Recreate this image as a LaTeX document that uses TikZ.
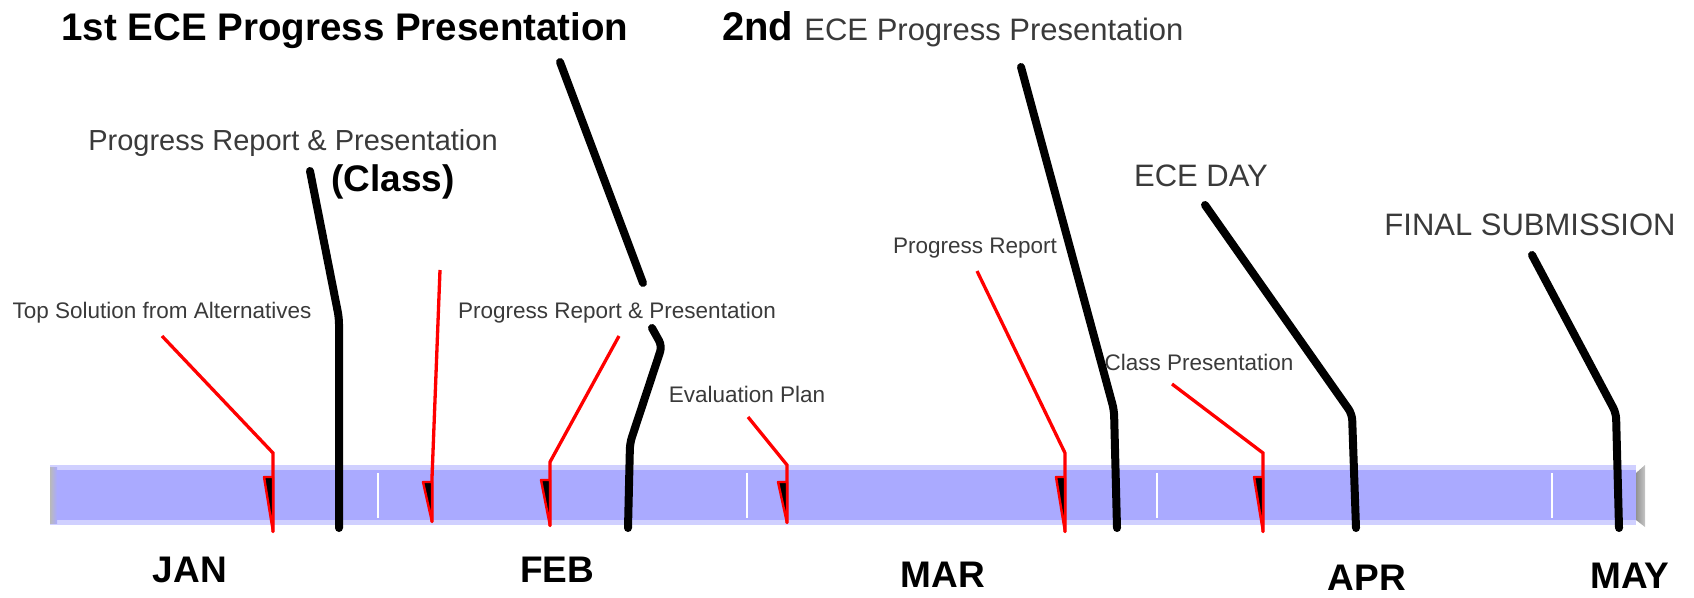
\documentclass[tikz,border=0pt]{standalone}
\usepackage{fontspec}
\setmainfont{Liberation Sans}
\usetikzlibrary{positioning, calc}
\definecolor{BarBlue}{HTML}{AAAAFF}
\definecolor{LabelGray}{HTML}{3A3A3A}
\definecolor{MarkRed}{HTML}{FF0000}
\tikzset{
  milestone/.style={line width=8pt, line cap=round, line join=round, rounded corners=6pt},
  task/.style={draw=MarkRed, line width=3.3pt, line join=miter},
  tasktip/.style={draw=MarkRed, fill=black, line width=2.4pt, line join=round},
  note/.style={inner sep=0pt, text=LabelGray, font=\fontsize{22.5}{26}\selectfont},
  event/.style={inner sep=0pt, text=LabelGray, font=\fontsize{31}{36}\selectfont},
  month/.style={inner sep=0pt, font=\fontsize{37}{42}\selectfont\bfseries},
}

\begin{document}
\begin{tikzpicture}[x=1pt, y=-1pt]
  \useasboundingbox (0,0) rectangle (1694,597);

  % timeline bar
  \fill[BarBlue!55] (50,465) rectangle (1636,525);
  \fill[BarBlue] (50,470) rectangle (1636,520);
  \shade[left color=gray!55, right color=BarBlue] (50,467) rectangle (57,523);
  \shade[left color=gray!85, right color=gray!45] (1636,473) -- (1645,465) -- (1645,527) -- (1636,520) -- cycle;
  \foreach \sx in {378,747,1157,1552}
    \draw[white, line width=1.2pt] (\sx,473) -- (\sx,518);

  % titles and labels
  \node[inner sep=0pt, anchor=base, font=\fontsize{38.5}{44}\selectfont\bfseries] (first) at (345,40) {1st ECE Progress Presentation};
  \node[inner sep=0pt, anchor=base west, font=\fontsize{40}{44}\selectfont\bfseries] (second) at (722,40)
    {2nd \textcolor{LabelGray}{\fontsize{31}{36}\selectfont\mdseries ECE Progress Presentation}};
  \node[inner sep=0pt, text=LabelGray, font=\fontsize{29}{34}\selectfont] (classrep) at (293,143) {Progress Report \& Presentation};
  \node[inner sep=0pt, font=\fontsize{37}{42}\selectfont\bfseries] (classtag) at (393,182) {(Class)};
  \node[note] (topsol) at (162,313) {Top Solution from Alternatives};
  \node[note] (febrep) at (617,313) {Progress Report \& Presentation};
  \node[note] (evalplan) at (747,394) {Evaluation Plan};
  \node[note] (marrep) at (975,248) {Progress Report};
  \node[note] (classpres) at (1199,362) {Class Presentation};
  \node[event] (eceday) at (1201,176) {ECE DAY};
  \node[event] (final) at (1530,225) {FINAL SUBMISSION};

  % months
  \node[month] (jan) at (190,570) {JAN};
  \node[month] (feb) at (557,570) {FEB};
  \node[month] (mar) at (943,575) {MAR};
  \node[month] (apr) at (1367,578) {APR};
  \node[month] (may) at (1630,576) {MAY};

  % free ends of the red pointers
  \coordinate (r-topsol) at (162,336);
  \coordinate (r-class) at (440,270);
  \coordinate (r-febrep) at (619,336);
  \coordinate (r-eval) at (748,417);
  \coordinate (r-marrep) at (977,271);
  \coordinate (r-clspres) at (1172,384);

  \foreach \src/\px/\bend/\hook/\tipy in {r-topsol/273/453/477/532, r-class/432/478/482/522,
      r-febrep/550/462/480/526, r-eval/787/465/482/523, r-marrep/1065/453/477/532, r-clspres/1263/453/477/532}{
    \draw[task] (\src) -- (\px,\bend) -- (\px,\tipy);
    \filldraw[tasktip] (\px,\hook) -- (\px-9,\hook) -- (\px,\tipy) -- cycle;
  }

  % black milestone lines
  \draw[milestone] (310,171) -- (339,318) -- (339,528);
  \draw[milestone] (560,62) -- (643,283);
  \draw[milestone] (652,328) -- (662,346) -- (630,443) -- (628,528);
  \draw[milestone] (1021,67) -- (1114,410) -- (1117,528);
  \draw[milestone] (1205,205) -- (1352,414) -- (1356,528);
  \draw[milestone] (1532,255) -- (1616,413) -- (1619,528);
\end{tikzpicture}
\end{document}
